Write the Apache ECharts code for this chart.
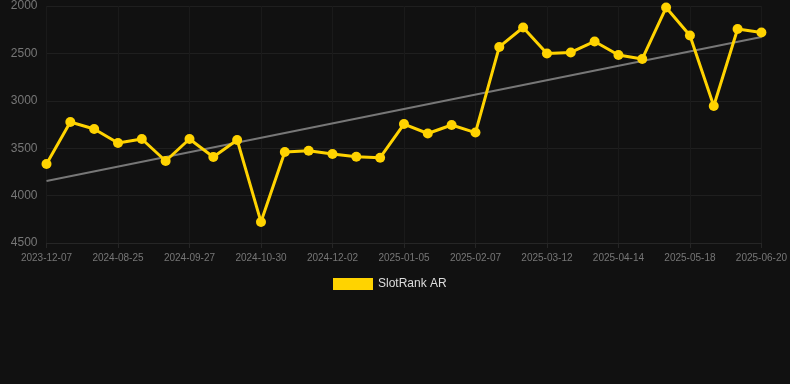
<!DOCTYPE html>
<html>
<head>
<meta charset="utf-8">
<script src="https://cdn.jsdelivr.net/npm/echarts@6/dist/echarts.min.js"></script>
<style>html,body{margin:0;padding:0;background:#111111;}#c{width:790px;height:384px;}</style>
</head>
<body>
<div id="c"></div>
<script>
const dates = ["2023-12-07","2024-08-03","2024-08-14","2024-08-25","2024-09-05","2024-09-16","2024-09-27","2024-10-08","2024-10-19","2024-10-30","2024-11-10","2024-11-21","2024-12-02","2024-12-13","2024-12-24","2025-01-05","2025-01-16","2025-01-27","2025-02-07","2025-02-18","2025-03-01","2025-03-12","2025-03-23","2025-04-03","2025-04-14","2025-04-25","2025-05-07","2025-05-18","2025-05-29","2025-06-09","2025-06-20"];
const rankValues = [3667,3224,3297,3445,3403,3635,3403,3593,3413,4278,3540,3526,3561,3590,3600,3245,3345,3255,3335,2432,2227,2501,2490,2374,2517,2559,2016,2311,3055,2243,2280];
const trendEnds = [3846,2327];
const seriesName = "SlotRank AR";

const trendData = dates.map((d,i)=> i===0 ? trendEnds[0] : (i===dates.length-1 ? trendEnds[1] : null));

const chart = echarts.init(document.getElementById('c'));
chart.setOption({
  backgroundColor:'#111111',
  animation:false,
  grid:{left:46.5,right:28.5,top:6,bottom:141,containLabel:false},
  legend:{
    data:[{name:seriesName}],
    top:273,left:328,
    itemWidth:40,itemHeight:12,icon:'rect',itemGap:6,
    textStyle:{color:'#dddddd',fontSize:12,fontFamily:'Arial, Liberation Sans, sans-serif'}
  },
  xAxis:{
    type:'category',data:dates,boundaryGap:false,
    axisLabel:{interval:2,color:'#777777',fontSize:10,margin:10,fontFamily:'Arial, Liberation Sans, sans-serif'},
    axisLine:{lineStyle:{color:'#262626'}},
    axisTick:{interval:2,lineStyle:{color:'#262626'}},
    splitLine:{show:true,interval:2,lineStyle:{color:'#1a1a1a'}}
  },
  yAxis:{
    type:'value',inverse:true,min:2000,max:4500,interval:500,
    axisLabel:{color:'#777777',fontSize:12,margin:9,formatter:v=>String(v),fontFamily:'Arial, Liberation Sans, sans-serif'},
    axisLine:{show:false},axisTick:{show:false},
    splitLine:{lineStyle:{color:'#1f1f1f'}}
  },
  series:[
    {name:'trend',type:'line',data:trendData,connectNulls:true,symbol:'none',
     lineStyle:{color:'#777777',width:2},z:1,silent:true},
    {name:seriesName,type:'line',data:rankValues,symbol:'circle',symbolSize:10,
     itemStyle:{color:'#FFD300'},lineStyle:{color:'#FFD300',width:3},z:2}
  ]
});
</script>
</body>
</html>
